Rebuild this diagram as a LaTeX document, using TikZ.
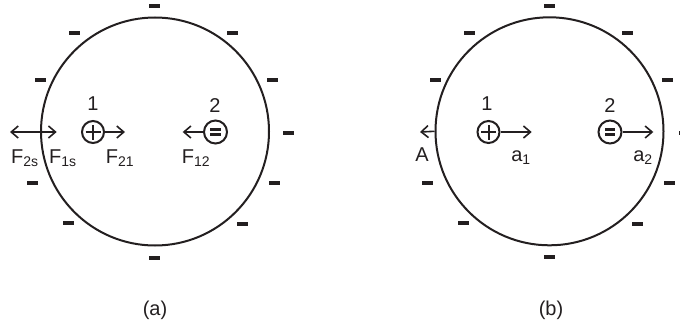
\documentclass[tikz,border=0pt]{standalone}
\usepackage{fontspec}
\setmainfont{Liberation Sans}
\usetikzlibrary{arrows.meta}
\definecolor{ink}{HTML}{231F20}
\tikzset{
  bigcirc/.style={draw=ink, circle, line width=2pt, inner sep=0pt},
  charge/.style={draw=ink, circle, line width=2pt, minimum size=22pt, inner sep=0pt},
  force/.style={draw=ink, line width=1.6pt, -{Straight Barb[length=7pt,width=12pt,line width=1.6pt]}},
  dforce/.style={draw=ink, line width=1.6pt, {Straight Barb[length=7pt,width=12pt,line width=1.6pt]}-{Straight Barb[length=7pt,width=12pt,line width=1.6pt]}},
  lbl/.style={anchor=base, inner sep=0pt, text=ink, font=\fontsize{20}{24}\selectfont},
}
\newcommand{\surfminus}[1]{\fill[ink] (#1) ++(-5.5,-2) rectangle ++(11,4);}
\begin{document}
\begin{tikzpicture}[x=1pt,y=-1pt]
\useasboundingbox (0,0) rectangle (680,324);
\clip (0,0) rectangle (680,324);
% ---------- (a) ----------
\node[bigcirc, minimum size=228pt] (ca) at (155,131.5) {};
\foreach \p in {{154,6},{74,33},{232,33},{40,80},{272,80},{288,133},{32,183},{274,183},{68,223},{242,224},{154,258}}
  {\surfminus{\p}}
\node[charge] (pa) at (93,132) {};
\draw[ink, line width=2pt] ([xshift=-7.5pt]pa.center) -- ([xshift=7.5pt]pa.center)
  ([yshift=-7.5pt]pa.center) -- ([yshift=7.5pt]pa.center);
\node[charge, minimum size=23pt] (ma) at (215.5,132) {};
\fill[ink] ([shift={(-5.3,-4.2)}]ma.center) rectangle ++(10.6,3);
\fill[ink] ([shift={(-5.3,1.2)}]ma.center) rectangle ++(10.6,3);
\node[lbl] (na1) at (93,110) {1};
\node[lbl] (na2) at (215,112) {2};
\coordinate (f2s) at (10,132);
\coordinate (f1s) at (56.7,132);
\coordinate (f21) at (125,132);
\coordinate (f12) at (182.7,132);
\draw[dforce] (f2s) -- (f1s);
\draw[force] (pa.east) -- (f21);
\draw[force] (ma.west) -- (f12);
\node[lbl] (lf2s) at (25,163) {F\textsubscript{2s}};
\node[lbl] (lf1s) at (63,163) {F\textsubscript{1s}};
\node[lbl] (lf21) at (120,163) {F\textsubscript{21}};
\node[lbl] (lf12) at (196,163) {F\textsubscript{12}};
\node[lbl] (capa) at (155,315) {(a)};
% ---------- (b) ----------
\node[bigcirc, minimum size=228pt] (cb) at (549.5,131.3) {};
\foreach \p in {{549,6},{469,33},{627,33},{435,80},{667,80},{684,133},{427,183},{669,183},{463,223},{637,224},{549,257}}
  {\surfminus{\p}}
\node[charge] (pb) at (488.5,132) {};
\draw[ink, line width=2pt] ([xshift=-7.5pt]pb.center) -- ([xshift=7.5pt]pb.center)
  ([yshift=-7.5pt]pb.center) -- ([yshift=7.5pt]pb.center);
\node[charge, minimum size=23pt] (mb) at (610,132) {};
\fill[ink] ([shift={(-5.3,-4.2)}]mb.center) rectangle ++(10.6,3);
\fill[ink] ([shift={(-5.3,1.2)}]mb.center) rectangle ++(10.6,3);
\node[lbl] (nb1) at (487,110) {1};
\node[lbl] (nb2) at (610,112) {2};
\coordinate (ta1) at (531.7,132);
\coordinate (ta2) at (653.3,132);
\coordinate (tA) at (420,132);
\draw[force] (pb.east) -- (ta1);
\draw[force] (mb.east) -- (ta2);
\draw[force] (cb.west) -- (tA);
\node[lbl] (lA) at (422,161) {A};
\node[lbl] (la1) at (521,161) {a\textsubscript{1}};
\node[lbl] (la2) at (643,161) {a\textsubscript{2}};
\node[lbl] (capb) at (551,315) {(b)};
\end{tikzpicture}
\end{document}
